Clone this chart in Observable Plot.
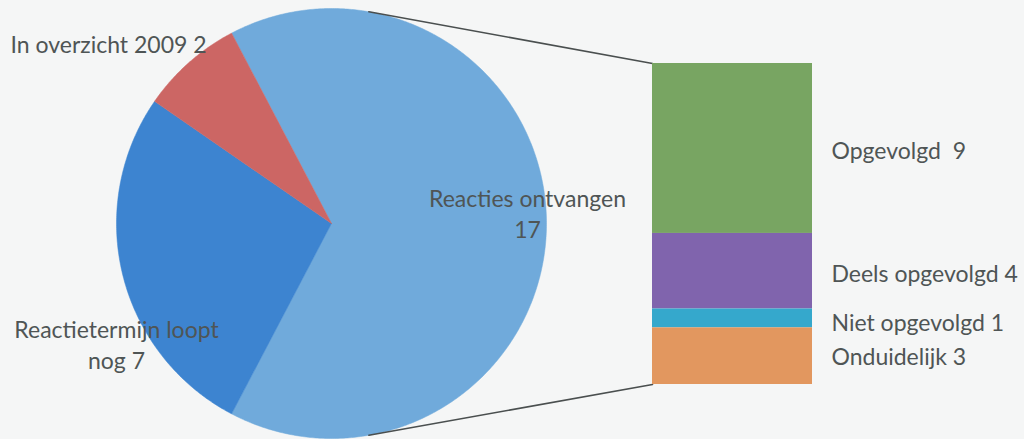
<!DOCTYPE html>
<html><head><meta charset="utf-8">
<script src="https://cdn.jsdelivr.net/npm/d3@7"></script>
<script src="https://cdn.jsdelivr.net/npm/@observablehq/plot@0.6"></script>
<style>html,body{margin:0;padding:0;background:#f5f6f6;overflow:hidden}</style>
</head><body><div id="chart"></div>
<script>
// ---- data ----
const pieCategories = ["Reacties ontvangen", "Reactietermijn loopt nog", "In overzicht 2009"];
const pieValues = [17, 7, 2];
const pieColors = ["#70aadb", "#3d84d0", "#cc6664"];
const barCategories = ["Opgevolgd", "Deels opgevolgd", "Niet opgevolgd", "Onduidelijk"];
const barValues = [9, 4, 1, 3];
const barColors = ["#78a562", "#8064ad", "#35a8cc", "#e2975f"];

// ---- layout ----
const W = 1024, H = 439;
const cx = 331, cy = 223, R = 215;
const barX1 = 652, barX2 = 812, barTop = 63, barBottom = 384;
const FONT = "Lato, 'Open Sans', sans-serif";
const TXT = "#4f5555";

// pie geometry from values
const total = d3.sum(pieValues);
const half = pieValues[0] / total * Math.PI;
const arcs = d3.pie().sort(null)
  .startAngle(Math.PI / 2 - half)
  .endAngle(Math.PI / 2 - half + 2 * Math.PI)(pieValues);
const pt = (a, r = R) => [cx + r * Math.sin(a), cy - r * Math.cos(a)];
const slices = arcs.map((a, i) => {
  const rows = [{x: cx, y: cy}];
  const n = Math.max(4, Math.ceil((a.endAngle - a.startAngle) / (Math.PI / 360)));
  for (let k = 0; k <= n; k++) {
    const t = a.startAngle + (a.endAngle - a.startAngle) * k / n;
    const [x, y] = pt(t);
    rows.push({x, y});
  }
  rows.push({x: cx, y: cy});
  return {rows, color: pieColors[i]};
});

// bar geometry from values
const barTotal = d3.sum(barValues);
const vy = d3.scaleLinear([0, barTotal], [barTop, barBottom]);
const cum = [0, ...d3.cumsum(barValues)];
const barRows = barValues.map((v, i) => ({
  label: barCategories[i] + (i === 0 ? "\u00a0 " : " ") + v,
  y1: vy(cum[i]), y2: vy(cum[i + 1]), color: barColors[i]
}));

// connector lines
const conA = 10 * Math.PI / 180;
const topP = pt(conA), botP = pt(Math.PI - conA);
const connectors = [
  [{x: topP[0], y: topP[1]}, {x: barX1, y: barTop}],
  [{x: botP[0], y: botP[1]}, {x: barX1, y: barBottom}]
];

// pie labels
const pieLabels = [
  {x: 527, y: 212, text: pieCategories[0] + "\n" + pieValues[0], anchor: "middle"},
  {x: 116, y: 343, text: "Reactietermijn loopt\nnog " + pieValues[1], anchor: "middle"},
  {x: 10, y: 43, text: pieCategories[2] + " " + pieValues[2], anchor: "start"}
];
const labelOffsets = [3, 3, 5, 1];

const chart = Plot.plot({
  width: W, height: H,
  margin: 0,
  x: {domain: [0, W], axis: null},
  y: {domain: [0, H], range: [0, H], axis: null},
  style: {background: "#f5f6f6", fontFamily: FONT},
  marks: [
    ...slices.map(s => Plot.line(s.rows, {x: "x", y: "y", fill: s.color, stroke: s.color, strokeWidth: 0.5})),
    ...connectors.map(c => Plot.line(c, {x: "x", y: "y", stroke: "#4a4f4f", strokeWidth: 1.6})),
    Plot.rect(barRows, {x1: barX1, x2: barX2, y1: "y1", y2: "y2", fill: "color"}),
    Plot.text(barRows, {x: 831, y: (d, i) => (d.y1 + d.y2) / 2 + labelOffsets[i], text: "label",
      textAnchor: "start", fontSize: 23, fill: TXT}),
    ...pieLabels.map(l => Plot.text([l], {x: "x", y: "y", text: "text", textAnchor: l.anchor,
      fontSize: 23, fill: TXT, lineHeight: 1.35}))
  ]
});
document.getElementById("chart").append(chart);
</script>
</body></html>
